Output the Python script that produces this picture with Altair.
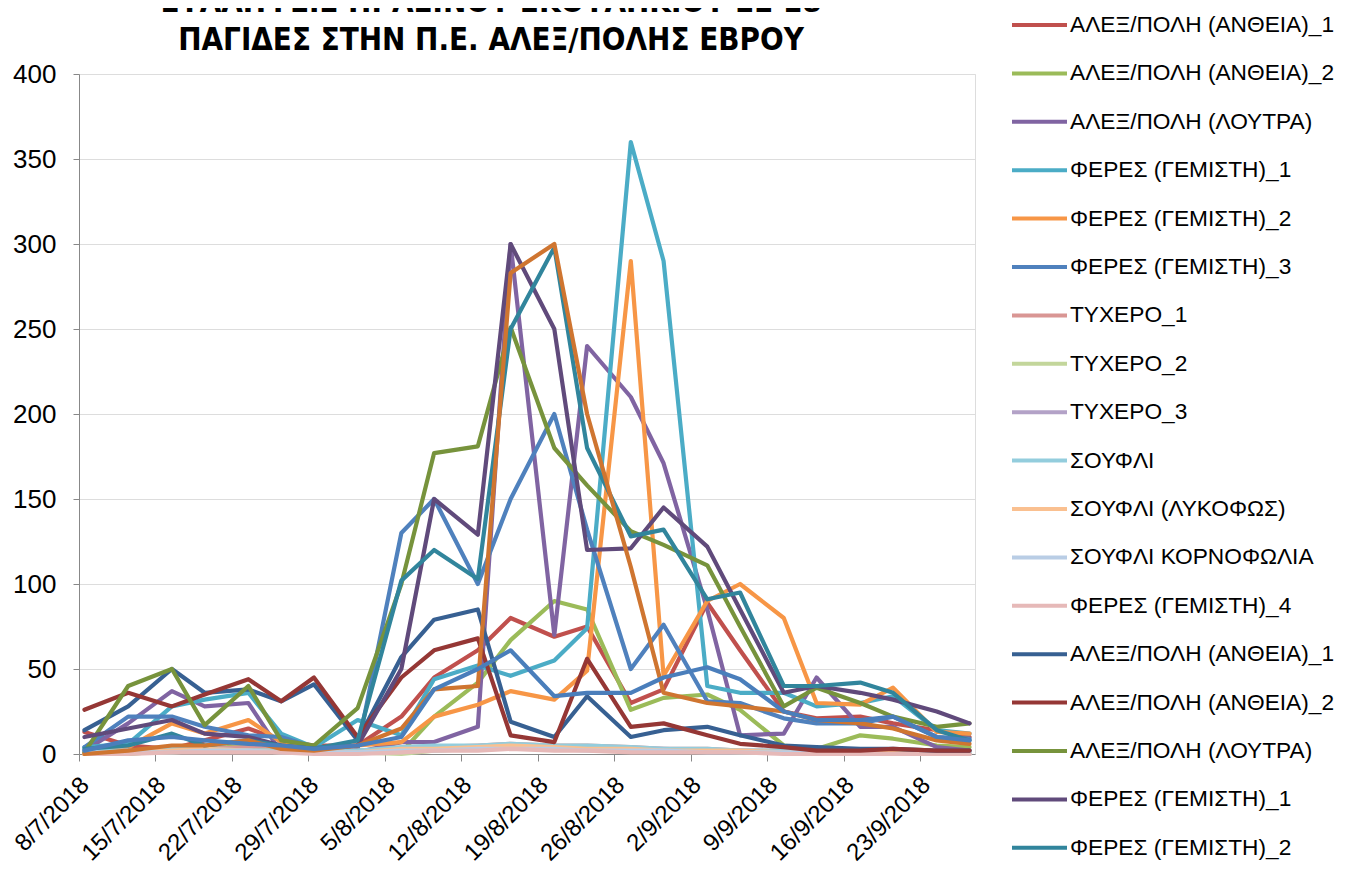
import json
import altair as alt
import pandas as pd

# ---------------- data ----------------
dates = ["2018-07-08", "2018-07-12", "2018-07-16", "2018-07-19", "2018-07-23", "2018-07-26",
         "2018-07-29", "2018-08-02", "2018-08-06", "2018-08-09", "2018-08-13", "2018-08-16",
         "2018-08-20", "2018-08-23", "2018-08-27", "2018-08-30", "2018-09-03", "2018-09-06",
         "2018-09-10", "2018-09-13", "2018-09-17", "2018-09-20", "2018-09-24", "2018-09-27"]

tick_labels = ["8/7/2018", "15/7/2018", "22/7/2018", "29/7/2018", "5/8/2018", "12/8/2018",
               "19/8/2018", "26/8/2018", "2/9/2018", "9/9/2018", "16/9/2018", "23/9/2018"]

names = ["ΑΛΕΞ/ΠΟΛΗ (ΑΝΘΕΙΑ)_1", "ΑΛΕΞ/ΠΟΛΗ (ΑΝΘΕΙΑ)_2", "ΑΛΕΞ/ΠΟΛΗ (ΛΟΥΤΡΑ)",
         "ΦΕΡΕΣ (ΓΕΜΙΣΤΗ)_1", "ΦΕΡΕΣ (ΓΕΜΙΣΤΗ)_2", "ΦΕΡΕΣ (ΓΕΜΙΣΤΗ)_3",
         "ΤΥΧΕΡΟ_1", "ΤΥΧΕΡΟ_2", "ΤΥΧΕΡΟ_3", "ΣΟΥΦΛΙ", "ΣΟΥΦΛΙ (ΛΥΚΟΦΩΣ)",
         "ΣΟΥΦΛΙ ΚΟΡΝΟΦΩΛΙΑ", "ΦΕΡΕΣ (ΓΕΜΙΣΤΗ)_4",
         "ΑΛΕΞ/ΠΟΛΗ (ΑΝΘΕΙΑ)_1", "ΑΛΕΞ/ΠΟΛΗ (ΑΝΘΕΙΑ)_2", "ΑΛΕΞ/ΠΟΛΗ (ΛΟΥΤΡΑ)",
         "ΦΕΡΕΣ (ΓΕΜΙΣΤΗ)_1", "ΦΕΡΕΣ (ΓΕΜΙΣΤΗ)_2", "ΦΕΡΕΣ (ΓΕΜΙΣΤΗ)_3", "ΤΥΧΕΡΟ_1"]

colors = ["#C0504D", "#9BBB59", "#8064A2", "#4BACC6", "#F79646", "#4F81BD",
          "#D99694", "#C3D69B", "#B3A2C7", "#93CDDD", "#FAC090", "#B9CDE5", "#E6B9B8",
          "#376092", "#953735", "#77933C", "#604A7B", "#31859C", "#CF7530", "#4A7EBB"]

s01 = [13, 5, 3, 8, 15, 8, 5, 5, 22, 45, 61, 80, 69, 75, 30, 38, 89, 61, 25, 21, 22, 18, 14, 10]
s02 = [0, 0, 2, 3, 5, 4, 3, 2, 1, 22, 42, 67, 90, 85, 26, 33, 35, 26, 5, 3, 11, 9, 5, 4]
s03 = [2, 18, 37, 28, 30, 1, 1, 1, 7, 7, 16, 300, 70, 240, 210, 171, 85, 11, 12, 45, 16, 16, 4, 2]
s04 = [4, 6, 28, 32, 36, 12, 4, 20, 11, 44, 52, 46, 55, 74, 360, 290, 40, 36, 36, 28, 30, 34, 14, 12]
s05 = [0, 4, 18, 12, 20, 7, 3, 5, 7, 22, 29, 37, 32, 49, 290, 46, 90, 100, 80, 30, 29, 39, 13, 12]
s06 = [4, 22, 22, 16, 11, 10, 4, 3, 130, 150, 100, 150, 200, 132, 50, 76, 31, 30, 21, 18, 18, 22, 10, 9]
s07 = [2, 1, 2, 3, 4, 3, 2, 2, 3, 4, 5, 6, 5, 5, 4, 3, 3, 2, 2, 1, 1, 1, 1, 0]
s08 = [0, 1, 1, 2, 2, 2, 1, 1, 0, 2, 3, 4, 4, 3, 3, 2, 2, 1, 1, 1, 1, 0, 0, 0]
s09 = [1, 2, 3, 2, 2, 1, 1, 1, 3, 3, 4, 5, 4, 4, 3, 3, 2, 2, 1, 1, 1, 1, 0, 0]
s10 = [2, 2, 3, 3, 2, 2, 1, 2, 4, 5, 5, 6, 5, 5, 4, 3, 3, 2, 2, 2, 1, 1, 1, 1]
s11 = [0, 1, 2, 3, 2, 1, 1, 1, 3, 3, 4, 5, 4, 3, 3, 2, 2, 2, 1, 1, 1, 1, 0, 0]
s12 = [1, 1, 1, 2, 2, 1, 1, 1, 2, 2, 3, 3, 3, 2, 2, 2, 1, 1, 1, 1, 0, 0, 0, 0]
s13 = [0, 0, 1, 1, 1, 1, 0, 0, 1, 2, 2, 3, 2, 2, 1, 1, 1, 1, 0, 0, 0, 0, 0, 0]
s14 = [14, 28, 50, 36, 38, 31, 41, 8, 57, 79, 85, 19, 10, 34, 10, 14, 16, 11, 5, 4, 3, 3, 2, 2]
s15 = [26, 36, 28, 35, 44, 31, 45, 10, 45, 61, 68, 11, 7, 56, 16, 18, 11, 6, 4, 2, 2, 3, 2, 2]
s16 = [1, 40, 50, 17, 40, 8, 5, 27, 100, 177, 181, 251, 180, 158, 131, 123, 111, 75, 28, 39, 30, 22, 16, 18]
s17 = [10, 15, 20, 12, 10, 5, 3, 5, 50, 150, 129, 300, 250, 120, 121, 145, 122, 85, 36, 40, 36, 32, 25, 18]
s18 = [3, 5, 12, 5, 8, 5, 3, 8, 102, 120, 103, 250, 298, 180, 128, 132, 91, 95, 40, 40, 42, 36, 14, 8]
s19 = [0, 2, 5, 5, 8, 3, 2, 5, 15, 38, 40, 283, 300, 200, 110, 36, 30, 28, 25, 20, 18, 15, 8, 6]
s20 = [2, 8, 10, 8, 6, 5, 3, 5, 10, 38, 50, 61, 34, 36, 36, 45, 51, 44, 25, 20, 20, 22, 10, 8]

series = [s01, s02, s03, s04, s05, s06, s07, s08, s09, s10,
          s11, s12, s13, s14, s15, s16, s17, s18, s19, s20]
ids = [f"s{i + 1:02d}" for i in range(len(series))]
legend_ids = ids[:18]

rows = []
for sid, vals in zip(ids, series):
    for d, v in zip(dates, vals):
        rows.append({"sid": sid, "date": d, "value": v})
df = pd.DataFrame(rows)

FONT = "Liberation Sans"

label_expr_x = json.dumps(tick_labels) + "[round(datum.value / 7)]"
label_expr_legend = json.dumps(names, ensure_ascii=False) + "[toNumber(substring(datum.value, 1, 3)) - 1]"

chart = alt.Chart(df).transform_calculate(
    day="(toDate(datum.date) - toDate('2018-07-08')) / 86400000 + 0.5"
).mark_line(strokeWidth=4.2, strokeJoin="round", strokeCap="round").encode(
    x=alt.X("day:Q",
            scale=alt.Scale(domain=[0, 82], nice=False, zero=False),
            axis=alt.Axis(values=list(range(0, 78, 7)), labelExpr=label_expr_x,
                          labelAngle=-45, labelAlign="right", labelBaseline="middle",
                          labelPadding=20, labelOffset=6, tickSize=7, grid=False,
                          labelOverlap=False, title=None, labelFontSize=24)),
    y=alt.Y("value:Q",
            scale=alt.Scale(domain=[0, 400], nice=False),
            axis=alt.Axis(values=list(range(0, 401, 50)), title=None, grid=True,
                          tickSize=6, labelPadding=17, labelFontSize=26)),
    color=alt.Color("sid:N",
                    scale=alt.Scale(domain=ids, range=colors),
                    sort=ids,
                    legend=alt.Legend(orient="none", legendX=931, legendY=-64,
                                      values=legend_ids,
                                      title=None, symbolType="stroke", symbolSize=3025,
                                      symbolStrokeWidth=4, clipHeight=30, rowPadding=18.4,
                                      labelFontSize=22.7, labelFont=FONT, labelColor="black",
                                      labelOffset=1, labelLimit=600, padding=0,
                                      labelExpr=label_expr_legend)),
    detail="sid:N",
).properties(
    width=896,
    height=680,
    autosize=alt.AutoSizeParams(type="none"),
    padding={"left": 71, "top": 66, "right": 366, "bottom": 114},
    title=alt.TitleParams(
        text=["ΣΥΛΛΗΨΕΙΣ ΠΡΑΣΙΝΟΥ ΣΚΟΥΛΗΚΙΟΥ ΣΕ 18", "ΠΑΓΙΔΕΣ ΣΤΗΝ Π.Ε. ΑΛΕΞ/ΠΟΛΗΣ ΕΒΡΟΥ"],
        font="Liberation Sans Narrow, DejaVu Sans Condensed, sans-serif",
        fontSize=31, fontWeight="bold", color="black", anchor="middle",
        dx=-36, dy=78, offset=0, lineHeight=38, baseline="bottom"),
).configure_view(
    stroke=None
).configure_axis(
    domainColor="#868686", tickColor="#868686", gridColor="#8a8a8a", gridWidth=1.5,
    domainWidth=1.5, tickWidth=1.5, labelColor="black", labelFont=FONT
).configure(background="white")

chart.save("out.html", embed_options={"renderer": "svg", "actions": False})
